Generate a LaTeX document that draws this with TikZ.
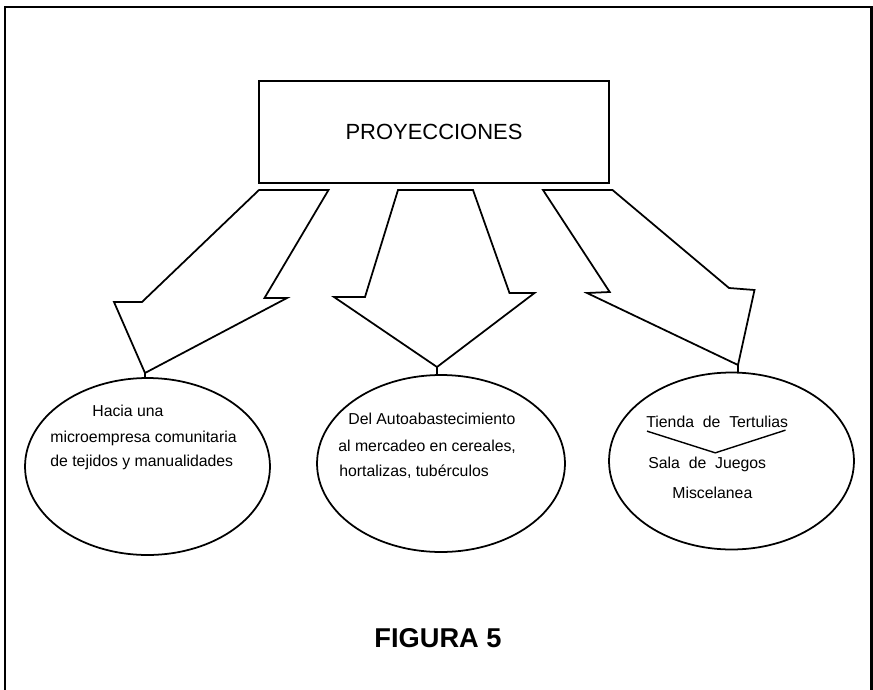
\documentclass[tikz,border=0pt]{standalone}
\usepackage{fontspec}
\setmainfont{Liberation Sans}
\usepackage{tikz}
\usetikzlibrary{calc,shapes.geometric}

\begin{document}
\begin{tikzpicture}[x=0.02cm,y=-0.02cm,
    bigarrow/.style={draw,line width=1pt,line join=miter},
    bubble/.style={draw,ellipse,line width=1pt,inner sep=0pt,
        minimum width=4.9cm,minimum height=3.54cm},
    lettering/.style={font=\fontsize{9}{11}\selectfont,anchor=mid west,inner sep=0pt}]
    \useasboundingbox (0,0) rectangle (873,690);
    % frame (open at the bottom)
    \draw[line width=1.7pt] (5,690) -- (5,7) -- (871,7) -- (871,690);
    \node[draw,line width=1.2pt,minimum width=7cm,minimum height=2.04cm,
        font=\fontsize{12.5}{15}\selectfont] (proy) at (434,132) {PROYECCIONES};
    % block arrows
    \draw[bigarrow] (259,190) -- (142,302) -- (114,302) -- (145,373) coordinate (tipA)
        -- (287,298) -- (264.5,298) -- (328.5,190) -- cycle;
    \draw[bigarrow] (398,190) -- (365,297) -- (334,297) -- (437,367) coordinate (tipB)
        -- (534.5,293) -- (509.5,293) -- (473,190) -- cycle;
    \draw[bigarrow] (543,190) -- (609.7,292) -- (587,293) -- (738,365) coordinate (tipC)
        -- (754.5,290) -- (729,288) -- (612.5,190) -- cycle;
    % ellipses
    \node[bubble] (ellA) at (147.5,466.5) {};
    \node[bubble,minimum width=4.96cm] (ellB) at (441,463.5) {};
    \node[bubble] (ellC) at (731.5,461) {};
    \draw[line width=1pt] (tipA) -- (tipA |- ellA.north);
    \draw[line width=1pt] (tipB) -- (tipB |- ellB.north);
    \draw[line width=1pt] (tipC) -- (tipC |- ellC.north);
    % texts
    \node[lettering] (hacia) at (92,412) {Hacia una};
    \node[lettering] (micro) at (50,438) {microempresa comunitaria};
    \node[lettering] (tejidos) at (50,462) {de tejidos y manualidades};
    \node[lettering] (auto) at (348,420) {Del Autoabastecimiento};
    \node[lettering] (merc) at (338,447) {al mercadeo en cereales,};
    \node[lettering] (hort) at (339,472) {hortalizas, tubérculos};
    \node[lettering] (tienda) at (646,423) {Tienda \ de \ Tertulias};
    \node[lettering] (sala) at (648,464) {Sala \ de \ Juegos};
    \node[lettering] (misc) at (672,494) {Miscelanea};
    \draw[line width=0.8pt] ($(tienda.south west)+(1,3)$) -- ($(sala.north)+(8,-4)$)
        -- ($(tienda.south east)+(-3,2)$);
    \node[font=\bfseries\fontsize{15.5}{18}\selectfont] (fig) at (438,638.5) {FIGURA 5};
\end{tikzpicture}
\end{document}
